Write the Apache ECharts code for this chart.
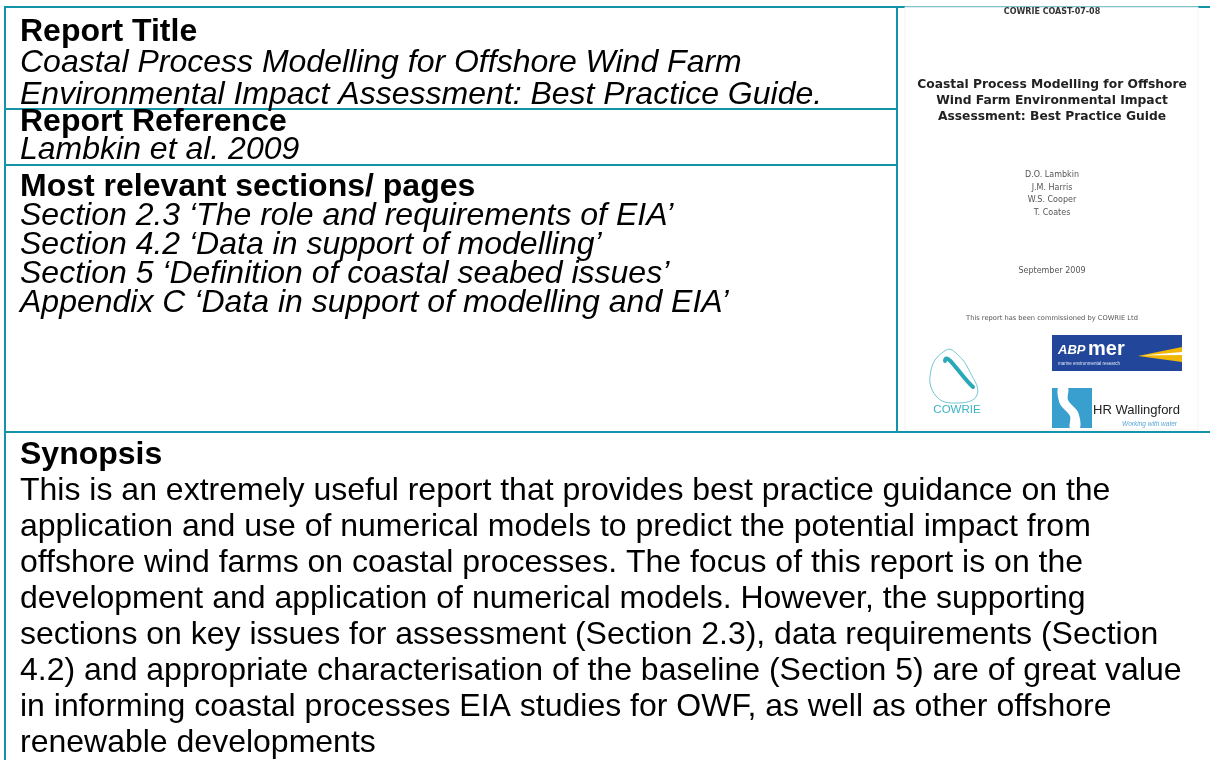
<!DOCTYPE html>
<html>
<head>
<meta charset="utf-8">
<title>Report summary</title>
<script src="https://cdn.jsdelivr.net/npm/echarts@6/dist/echarts.min.js"></script>
<style>
  html, body { margin: 0; padding: 0; background: #fff; }
  #chart { width: 1210px; height: 760px; }
</style>
</head>
<body>
<div id="chart"></div>
<script>
// table text, one entry per printed line
var titleLabel = "Report Title";
var titleLines = [
  "Coastal Process Modelling for Offshore Wind Farm",
  "Environmental Impact Assessment: Best Practice Guide."
];
var referenceLabel = "Report Reference";
var referenceLines = ["Lambkin et al. 2009"];
var sectionsLabel = "Most relevant sections/ pages";
var sectionLines = [
  "Section 2.3 \u2018The role and requirements of EIA\u2019",
  "Section 4.2 \u2018Data in support of modelling\u2019",
  "Section 5 \u2018Definition of coastal seabed issues\u2019",
  "Appendix C \u2018Data in support of modelling and EIA\u2019"
];
var synopsisLabel = "Synopsis";
var synopsisLines = [
  "This is an extremely useful report that provides best practice guidance on the",
  "application and use of numerical models to predict the potential impact from",
  "offshore wind farms on coastal processes. The focus of this report is on the",
  "development and application of numerical models. However, the supporting",
  "sections on key issues for assessment (Section 2.3), data requirements (Section",
  "4.2) and appropriate characterisation of the baseline (Section 5) are of great value",
  "in informing coastal processes EIA studies for OWF, as well as other offshore",
  "renewable developments"
];

// report cover thumbnail
var coverCode = "COWRIE COAST-07-08";
var coverTitle = [
  "Coastal Process Modelling for Offshore",
  "Wind Farm Environmental Impact",
  "Assessment: Best Practice Guide"
];
var coverAuthors = ["D.O. Lambkin", "J.M. Harris", "W.S. Cooper", "T. Coates"];
var coverDate = "September 2009";
var coverNote = "This report has been commissioned by COWRIE Ltd";

var FONT = '"Liberation Sans", Arial, sans-serif';
var COVER_FONT = '"DejaVu Sans", Verdana, sans-serif';
var TEAL = "#1393a7";

function txt(str, x, y, opt) {
  opt = opt || {};
  return {
    type: "text",
    x: x,
    y: y,
    z: opt.z || 10,
    style: {
      text: str,
      fill: opt.color || "#000",
      fontSize: opt.size || 32,
      fontFamily: opt.family || FONT,
      fontWeight: opt.bold ? "bold" : "normal",
      fontStyle: opt.italic ? "italic" : "normal",
      align: opt.align || "left",
      verticalAlign: "middle"
    }
  };
}

function line(x1, y1, x2, y2, color, w) {
  return {
    type: "line",
    z: 5,
    shape: { x1: x1, y1: y1, x2: x2, y2: y2 },
    style: { stroke: color || TEAL, lineWidth: w || 2 }
  };
}

// label in bold, following lines in italic
function block(label, lines, top, step, italic) {
  var out = [txt(label, 20, top, { bold: true })];
  lines.forEach(function (s, i) {
    out.push(txt(s, 20, top + step * (i + 1), { italic: italic }));
  });
  return out;
}

var els = [];

// borders
els.push(line(4, 7, 1210, 7));
els.push(line(5, 6, 5, 760));
els.push(line(897, 7, 897, 432));
els.push(line(4, 109, 897, 109));
els.push(line(4, 165, 897, 165));
els.push(line(4, 432, 1210, 432));

els = els.concat(block(titleLabel, titleLines, 32, 31.5, true));
els = els.concat(block(referenceLabel, referenceLines, 122, 28.5, true));
els = els.concat(block(sectionsLabel, sectionLines, 187, 29, true));
els = els.concat(block(synopsisLabel, synopsisLines, 455, 36, false));

// cover page
var cx = 1052;
els.push({
  type: "rect", z: 6,
  shape: { x: 905, y: 7, width: 293, height: 423 },
  style: { fill: "rgba(255,255,255,0.75)", stroke: "#f3f3f3", lineWidth: 1 }
});
els.push(txt(coverCode, cx, 12, { size: 8, bold: true, family: COVER_FONT, color: "#333", align: "center" }));
coverTitle.forEach(function (s, i) {
  els.push(txt(s, cx, 85 + i * 15.7, { size: 12.3, bold: true, family: COVER_FONT, color: "#222", align: "center" }));
});
coverAuthors.forEach(function (s, i) {
  els.push(txt(s, cx, 175 + i * 12.7, { size: 8, family: COVER_FONT, color: "#555", align: "center" }));
});
els.push(txt(coverDate, cx, 271, { size: 8, family: COVER_FONT, color: "#555", align: "center" }));
els.push(txt(coverNote, cx, 318, { size: 6.7, family: COVER_FONT, color: "#555", align: "center" }));

// COWRIE logo
els.push({
  type: "polygon", z: 11,
  shape: { points: [[946, 350], [931, 370], [936, 396], [958, 403], [977, 395], [970, 372], [956, 353]], smooth: 0.45 },
  style: { fill: "none", stroke: "#4fb9c7", lineWidth: 0.8 }
});
els.push({
  type: "bezierCurve", z: 11,
  shape: { x1: 945, y1: 361, cpx1: 946, cpy1: 350, cpx2: 962, cpy2: 378, x2: 973, y2: 387 },
  style: { fill: "none", stroke: "#2ba8b8", lineWidth: 4, lineCap: "round" }
});
els.push(txt("COWRIE", 957, 410, { size: 11.5, color: "#3bb3c3", align: "center", z: 12 }));

// ABP mer logo
els.push({ type: "rect", z: 11, shape: { x: 1052, y: 335, width: 130, height: 36 }, style: { fill: "#22479a" } });
els.push(txt("ABP", 1058, 350, { size: 13, bold: true, italic: true, color: "#fff", z: 14 }));
els.push(txt("mer", 1088, 349, { size: 20, bold: true, color: "#fff", z: 14 }));
els.push(txt("marine environmental research", 1058, 364, { size: 4.5, color: "#dfe6f4", z: 14 }));
els.push({
  type: "polygon", z: 12,
  shape: { points: [[1138, 356], [1182, 347], [1182, 362]] },
  style: { fill: "#f2b705" }
});
els.push({
  type: "polygon", z: 13,
  shape: { points: [[1142, 355.5], [1182, 352], [1182, 355]] },
  style: { fill: "#fff" }
});

// HR Wallingford logo
els.push({ type: "rect", z: 11, shape: { x: 1052, y: 388, width: 40, height: 40 }, style: { fill: "#389fcf" } });
els.push({
  type: "polygon", z: 12,
  shape: { points: [[1058, 388], [1068, 388], [1068, 400], [1078, 412], [1080, 428], [1070, 428], [1070, 416], [1060, 404]], smooth: 0.3 },
  style: { fill: "#fff" }
});
els.push(txt("HR Wallingford", 1093, 410, { size: 13, color: "#222", z: 14 }));
els.push(txt("Working with water", 1177, 424, { size: 6.5, italic: true, color: "#5aa7d6", align: "right", z: 14 }));

var chart = echarts.init(document.getElementById("chart"), null, { renderer: "canvas" });
chart.setOption({
  backgroundColor: "#fff",
  animation: false,
  graphic: { elements: els }
});
</script>
</body>
</html>
